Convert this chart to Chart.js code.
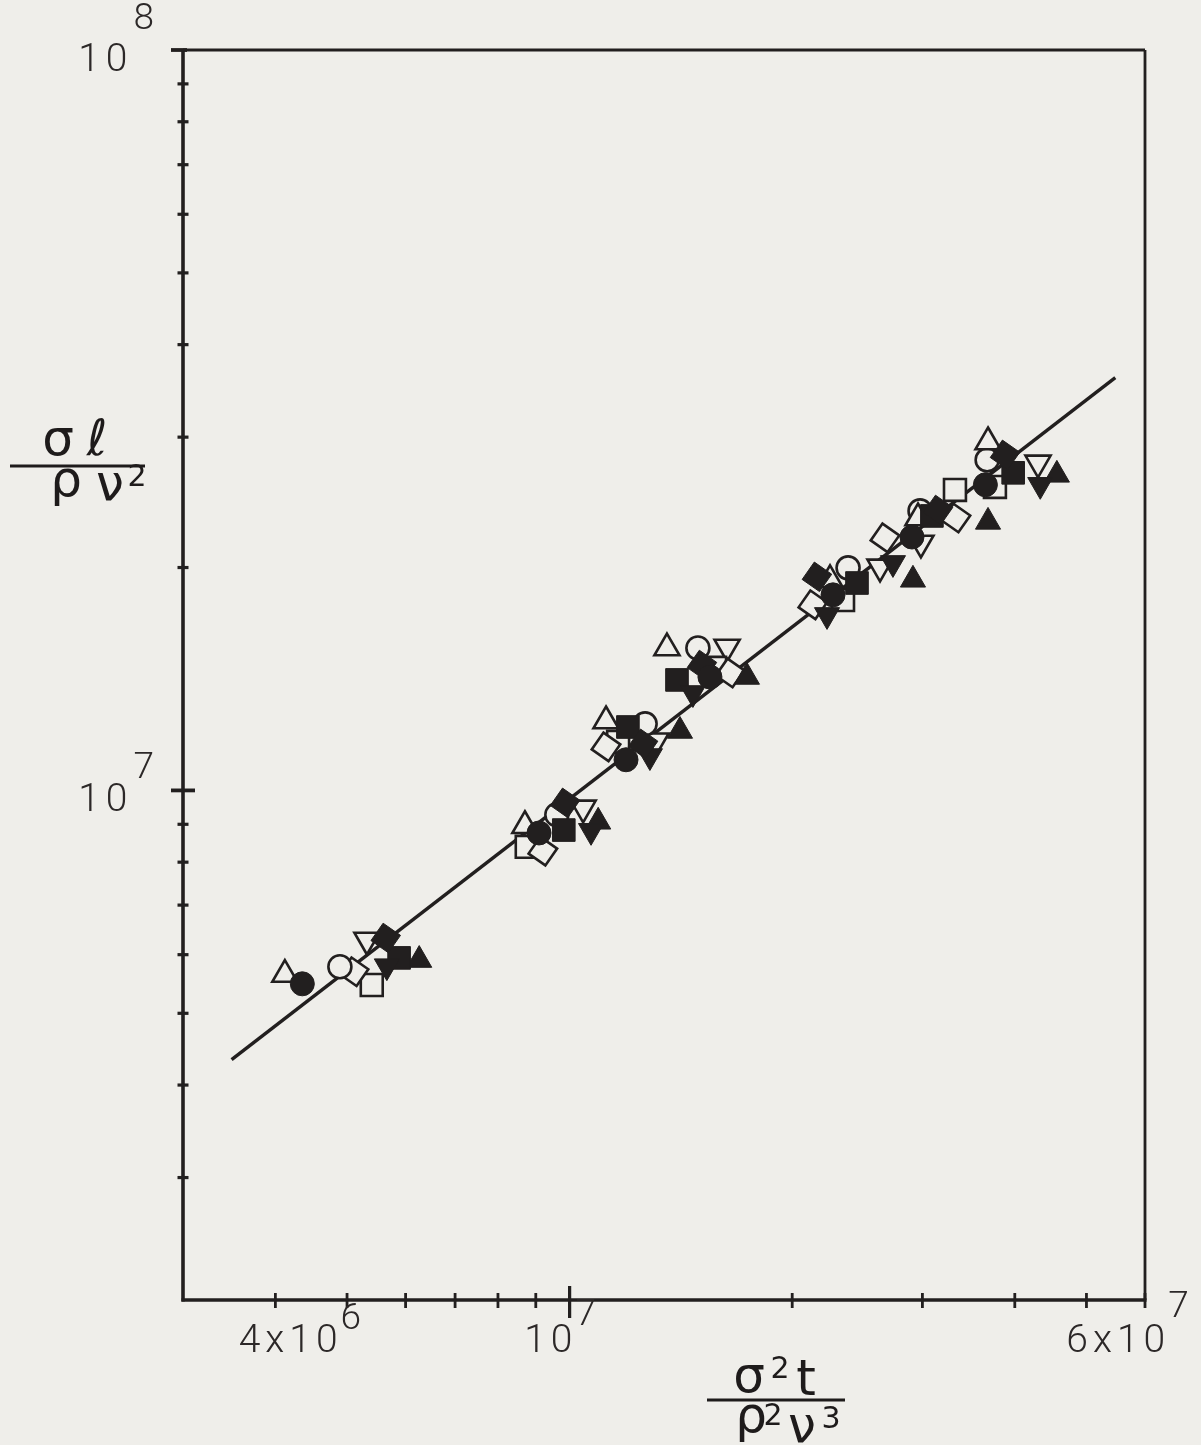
<!DOCTYPE html>
<html><head><meta charset="utf-8">
<script src="https://cdn.jsdelivr.net/npm/chart.js@4.4.1/dist/chart.umd.min.js"></script>
<style>html,body{margin:0;padding:0;background:#efeeea;}canvas{display:block;}</style>
</head><body>
<canvas id="c" width="1201" height="1445"></canvas>
<script>
// ---------------- DATA ----------------
// Axis tick values
const xTickValues = [4e6, 5e6, 6e6, 7e6, 8e6, 9e6, 1e7, 2e7, 3e7, 4e7, 5e7, 6e7];
const xMajorTicks = [1e7];
const yTickValues = [3e6, 4e6, 5e6, 6e6, 7e6, 8e6, 9e6, 1e7, 2e7, 3e7, 4e7, 5e7, 6e7, 7e7, 8e7, 9e7, 1e8];
const yMajorTicks = [1e7, 1e8];
// Tick labels
const xLabelValues = [4e6, 1e7, 6e7];
const xLabelBases  = ['4x10', '10', '6x10'];
const xLabelExps   = ['6', '7', '7'];
const yLabelValues = [1e7, 1e8];
const yLabelBases  = ['10', '10'];
const yLabelExps   = ['7', '8'];

// Series (one point per group of runs)
const triUpOpenX   = [4.12e6, 8.70e6, 1.120e7, 1.354e7, 2.250e7, 2.959e7, 3.68e7];
const triUpOpenY   = [5.64e6, 8.96e6, 1.241e7, 1.557e7, 1.925e7, 2.333e7, 2.955e7];
const circleFillX  = [4.35e6, 9.09e6, 1.192e7, 1.548e7, 2.271e7, 2.904e7, 3.65e7];
const circleFillY  = [5.48e6, 8.76e6, 1.100e7, 1.423e7, 1.837e7, 2.199e7, 2.587e7];
const circleOpenX  = [4.89e6, 9.61e6, 1.265e7, 1.491e7, 2.380e7, 2.978e7, 3.67e7];
const circleOpenY  = [5.78e6, 9.27e6, 1.230e7, 1.557e7, 1.998e7, 2.385e7, 2.795e7];
const diamondOpenX = [5.11e6, 9.20e6, 1.120e7, 1.648e7, 2.133e7, 2.670e7, 3.33e7];
const diamondOpenY = [5.69e6, 8.28e6, 1.145e7, 1.441e7, 1.781e7, 2.193e7, 2.333e7];
const squareOpenX  = [5.40e6, 8.75e6, 1.163e7, 1.573e7, 2.343e7, 3.32e7, 3.76e7];
const squareOpenY  = [5.46e6, 8.39e6, 1.163e7, 1.464e7, 1.808e7, 2.546e7, 2.570e7];
const triDownOpenX = [5.32e6, 1.043e7, 1.309e7, 1.633e7, 2.629e7, 2.986e7, 4.30e7];
const triDownOpenY = [6.28e6, 9.47e6, 1.167e7, 1.562e7, 2.004e7, 2.159e7, 2.769e7];
const diamondFillX = [5.64e6, 9.86e6, 1.257e7, 1.510e7, 2.160e7, 3.150e7, 3.88e7];
const diamondFillY = [6.32e6, 9.62e6, 1.156e7, 1.477e7, 1.943e7, 2.392e7, 2.839e7];
const triDownFillX = [5.66e6, 1.069e7, 1.284e7, 1.468e7, 2.229e7, 2.737e7, 4.33e7];
const triDownFillY = [5.79e6, 8.82e6, 1.113e7, 1.354e7, 1.726e7, 2.029e7, 2.587e7];
const squareFillX  = [5.88e6, 9.82e6, 1.199e7, 1.397e7, 2.447e7, 3.09e7, 3.98e7];
const squareFillY  = [5.94e6, 8.84e6, 1.218e7, 1.410e7, 1.906e7, 2.348e7, 2.685e7];
const triUpFillX   = [6.26e6, 1.093e7, 1.410e7, 1.737e7, 2.913e7, 3.68e7, 4.56e7];
const triUpFillY   = [5.90e6, 9.07e6, 1.203e7, 1.423e7, 1.925e7, 2.305e7, 2.668e7];

// Fitted straight line (log-log)
const fitX = [3.49e6, 5.47e7];
const fitY = [4.33e6, 3.61e7];

// ---------------- STYLE ----------------
const PAPER = '#efeeea';
const INK = '#221f1f';

function pts(xs, ys) { return xs.map((x, i) => ({ x: x, y: ys[i] })); }

function markerSet(label, xs, ys, style, radius, rotation, filled) {
  return {
    type: 'scatter',
    label: label,
    data: pts(xs, ys),
    pointStyle: style,
    rotation: rotation,
    pointRadius: radius,
    pointHoverRadius: radius,
    backgroundColor: filled ? INK : PAPER,
    borderColor: INK,
    borderWidth: filled ? 1 : 2.6,
    order: filled ? 1 : 2
  };
}

const datasets = [
  markerSet('open triangle', triUpOpenX, triUpOpenY, 'triangle', 14.5, 0, false),
  markerSet('open circle', circleOpenX, circleOpenY, 'circle', 11.5, 0, false),
  markerSet('open diamond', diamondOpenX, diamondOpenY, 'rect', 14.5, 35, false),
  markerSet('open square', squareOpenX, squareOpenY, 'rect', 15.5, 0, false),
  markerSet('open inverted triangle', triDownOpenX, triDownOpenY, 'triangle', 14.5, 180, false),
  markerSet('filled circle', circleFillX, circleFillY, 'circle', 12, 0, true),
  markerSet('filled diamond', diamondFillX, diamondFillY, 'rect', 15, 35, true),
  markerSet('filled inverted triangle', triDownFillX, triDownFillY, 'triangle', 14.5, 180, true),
  markerSet('filled square', squareFillX, squareFillY, 'rect', 16, 0, true),
  markerSet('filled triangle', triUpFillX, triUpFillY, 'triangle', 14.5, 0, true),
  {
    type: 'line',
    label: 'fit',
    data: pts(fitX, fitY),
    borderColor: INK,
    borderWidth: 3.4,
    pointRadius: 0,
    showLine: true,
    fill: false,
    order: 3
  }
];

const paperAxes = {
  id: 'paperAxes',
  beforeDraw(chart) {
    const c = chart.ctx;
    c.save();
    c.fillStyle = PAPER;
    c.fillRect(0, 0, chart.width, chart.height);
    c.restore();
  },
  afterDraw(chart) {
    const c = chart.ctx, a = chart.chartArea, xs = chart.scales.x, ys = chart.scales.y;
    const seg = (x1, y1, x2, y2) => { c.beginPath(); c.moveTo(x1, y1); c.lineTo(x2, y2); c.stroke(); };
    c.save();
    c.strokeStyle = INK; c.fillStyle = INK; c.lineCap = 'butt';
    // frame
    c.lineWidth = 2.8;
    seg(a.left, a.top, a.right, a.top);
    seg(a.right, a.top, a.right, a.bottom);
    c.lineWidth = 3.6;
    seg(a.left, a.top - 1, a.left, a.bottom + 1.5);
    seg(a.left - 1.5, a.bottom, a.right + 1.5, a.bottom);
    // y ticks (crossing the axis)
    yTickValues.forEach(v => {
      const py = ys.getPixelForValue(v);
      const major = yMajorTicks.includes(v);
      c.lineWidth = major ? 3.8 : 3.2;
      const h = major ? 12 : 5.5;
      seg(a.left - h, py, a.left + (v === 1e8 ? 4 : h), py);
    });
    // x ticks (crossing the axis)
    xTickValues.forEach(v => {
      const px = xs.getPixelForValue(v);
      const major = xMajorTicks.includes(v);
      c.lineWidth = major ? 3.2 : 2.8;
      if (major) seg(px, a.bottom - 14, px, a.bottom + 18);
      else seg(px, a.bottom - 7, px, a.bottom + 8);
    });
    // tick labels
    const baseFont = '300 39px Roboto, "DejaVu Sans", sans-serif';
    const expFont = '300 37px Roboto, "DejaVu Sans", sans-serif';
    c.fillStyle = '#2c2828';
    c.textBaseline = 'middle';
    c.textAlign = 'left';
    const nudgeX = [28, -6, -14];
    const expLiftX = [-22, -26, -34];
    xLabelValues.forEach((v, i) => {
      c.letterSpacing = '5px';
      c.font = baseFont;
      const bw = c.measureText(xLabelBases[i]).width;
      c.font = expFont;
      const ew = c.measureText(xLabelExps[i]).width;
      const total = bw + ew;
      const cx = xs.getPixelForValue(v) + nudgeX[i];
      const x0 = cx - total / 2;
      const cy = a.bottom + 42;
      c.font = baseFont;
      c.fillText(xLabelBases[i], x0, cy);
      c.font = expFont;
      c.fillText(xLabelExps[i], x0 + bw - 2, cy + expLiftX[i]);
    });
    const expLiftY = [-22, -30];
    yLabelValues.forEach((v, i) => {
      c.letterSpacing = '6px';
      c.font = expFont;
      const ew = c.measureText(yLabelExps[i]).width;
      c.font = baseFont;
      const bw = c.measureText(yLabelBases[i]).width;
      const right = 160;
      const py = ys.getPixelForValue(v);
      c.fillText(yLabelBases[i], right - ew - bw, py + 11);
      c.font = expFont;
      c.fillText(yLabelExps[i], right - ew, py + expLiftY[i]);
    });
    c.letterSpacing = '0px';
    // axis titles (hand-lettered fractions)
    c.fillStyle = '#1e1b1b';
    c.textAlign = 'center';
    c.textBaseline = 'alphabetic';
    const big = '50px "DejaVu Sans", sans-serif';
    const small = '30px "DejaVu Sans", sans-serif';
    // y title:  σℓ / ρν²
    c.font = big;
    c.fillText('σ', 58, 455);
    c.fillText('ℓ', 97, 455);
    c.lineWidth = 3; c.strokeStyle = '#1e1b1b';
    seg(10, 466, 145, 466);
    c.fillText('ρ', 66, 496);
    c.fillText('ν', 110, 500);
    c.font = small;
    c.fillText('2', 137, 486);
    // x title:  σ²t / ρ²ν³
    c.font = big;
    c.fillText('σ', 749, 1392);
    c.fillText('t', 806, 1395);
    c.font = small;
    c.fillText('2', 780, 1378);
    seg(707, 1400, 845, 1400);
    c.font = big;
    c.fillText('ρ', 751, 1432);
    c.fillText('ν', 802, 1442);
    c.font = small;
    c.fillText('2', 773, 1425);
    c.fillText('3', 831, 1428);
    c.restore();
  }
};

new Chart(document.getElementById('c'), {
  type: 'scatter',
  data: { datasets: datasets },
  options: {
    responsive: false,
    animation: false,
    devicePixelRatio: 1,
    layout: { padding: { left: 183, top: 50, right: 56, bottom: 145 } },
    plugins: { legend: { display: false }, tooltip: { enabled: false } },
    scales: {
      x: { type: 'logarithmic', min: 3e6, max: 6e7, display: false },
      y: { type: 'logarithmic', min: 2.05e6, max: 1e8, display: false }
    }
  },
  plugins: [paperAxes]
});
</script>
</body></html>
